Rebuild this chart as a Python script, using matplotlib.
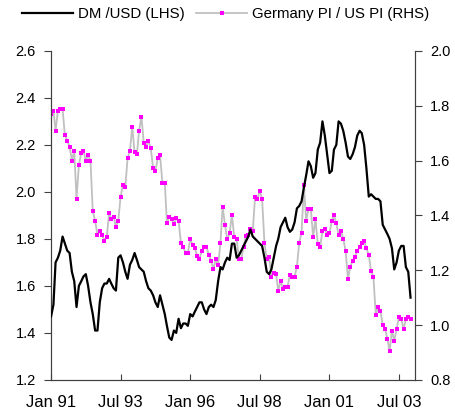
import matplotlib
matplotlib.use("Agg")
import matplotlib.pyplot as plt
import pandas as pd
from matplotlib.lines import Line2D

plt.rcParams['font.family'] = ['Liberation Sans', 'DejaVu Sans']

dates = pd.date_range('1991-01-01', periods=156, freq='MS')

dm_usd = [
    1.47, 1.52, 1.70, 1.72, 1.75, 1.81, 1.78, 1.75, 1.74, 1.66,
    1.62, 1.51, 1.60, 1.62, 1.64, 1.65, 1.60, 1.53, 1.48, 1.41,
    1.41, 1.53, 1.59, 1.61, 1.61, 1.63, 1.61, 1.59, 1.58, 1.72,
    1.73, 1.70, 1.66, 1.63, 1.69, 1.71, 1.74, 1.71, 1.68, 1.67,
    1.66, 1.62, 1.59, 1.58, 1.56, 1.53, 1.51, 1.56, 1.52, 1.48,
    1.43, 1.38, 1.37, 1.41, 1.40, 1.46, 1.42, 1.44, 1.44, 1.43,
    1.48, 1.47, 1.49, 1.51, 1.53, 1.53, 1.50, 1.48, 1.51, 1.52,
    1.51, 1.54, 1.62, 1.68, 1.67, 1.70, 1.72, 1.71, 1.78, 1.78,
    1.72, 1.73, 1.75, 1.77, 1.79, 1.81, 1.84, 1.81, 1.80, 1.79,
    1.78, 1.77, 1.72, 1.66, 1.65, 1.67, 1.72, 1.77, 1.80, 1.85,
    1.87, 1.89, 1.85, 1.83, 1.84, 1.87, 1.93, 1.94, 1.96, 2.02,
    2.07, 2.13, 2.11, 2.06, 2.08, 2.18, 2.21, 2.30, 2.24, 2.16,
    2.08, 2.09, 2.18, 2.20, 2.30, 2.29, 2.26, 2.21, 2.15, 2.14,
    2.16, 2.19, 2.24, 2.26, 2.25, 2.20, 2.10, 1.98, 1.99, 1.98,
    1.97, 1.97, 1.96, 1.86, 1.84, 1.82, 1.80, 1.76, 1.67, 1.70,
    1.75, 1.77, 1.77, 1.68, 1.66, 1.55,
]

pi_ratio = [
    1.769, 1.782, 1.709, 1.782, 1.788, 1.788, 1.693, 1.673, 1.651, 1.600,
    1.636, 1.461, 1.584, 1.629, 1.636, 1.600, 1.620, 1.600, 1.416, 1.380,
    1.328, 1.343, 1.328, 1.308, 1.322, 1.410, 1.387, 1.395, 1.359, 1.380,
    1.468, 1.511, 1.505, 1.608, 1.636, 1.724, 1.630, 1.623, 1.709, 1.760,
    1.665, 1.651, 1.673, 1.645, 1.572, 1.562, 1.608, 1.620, 1.519, 1.519,
    1.373, 1.395, 1.387, 1.368, 1.389, 1.380, 1.300, 1.283, 1.264, 1.264,
    1.313, 1.292, 1.282, 1.252, 1.241, 1.271, 1.286, 1.286, 1.255, 1.234,
    1.204, 1.241, 1.219, 1.300, 1.432, 1.365, 1.313, 1.335, 1.401, 1.320,
    1.313, 1.241, 1.241, 1.286, 1.325, 1.328, 1.350, 1.344, 1.468, 1.460,
    1.490, 1.460, 1.300, 1.240, 1.249, 1.176, 1.191, 1.185, 1.125, 1.162,
    1.131, 1.138, 1.140, 1.182, 1.176, 1.176, 1.213, 1.300, 1.337, 1.511,
    1.381, 1.423, 1.423, 1.322, 1.387, 1.295, 1.286, 1.343, 1.350, 1.328,
    1.335, 1.380, 1.401, 1.371, 1.328, 1.343, 1.314, 1.271, 1.168, 1.213,
    1.234, 1.249, 1.271, 1.284, 1.298, 1.307, 1.280, 1.255, 1.197, 1.176,
    1.036, 1.067, 1.051, 1.000, 0.985, 0.949, 0.906, 0.979, 0.943, 0.985,
    1.028, 1.022, 0.985, 1.022, 1.030, 1.022,
]

x_tick_dates = pd.to_datetime(['1991-01-01', '1993-07-01', '1996-01-01',
                               '1998-07-01', '2001-01-01', '2003-07-01'])
x_tick_labels = ['Jan 91', 'Jul 93', 'Jan 96', 'Jul 98', 'Jan 01', 'Jul 03']
left_ticks = [1.2, 1.4, 1.6, 1.8, 2.0, 2.2, 2.4, 2.6]
right_ticks = [0.8, 1.0, 1.2, 1.4, 1.6, 1.8, 2.0]

fig = plt.figure(figsize=(4.56, 4.17), dpi=100)
ax = fig.add_axes([0.112, 0.089, 0.798, 0.789])
ax2 = ax.twinx()

ax.plot(dates, dm_usd, color='black', lw=1.6, zorder=3)
ax2.plot(dates, pi_ratio, color='#c0c0c0', lw=1.3, marker='s',
         markersize=3.2, markerfacecolor='#ff00ff', markeredgecolor='#ff00ff',
         markeredgewidth=0, zorder=2)
ax.set_zorder(ax2.get_zorder() + 1)
ax.patch.set_visible(False)

ax.set_xlim(pd.Timestamp('1991-01-01'), pd.Timestamp('2004-01-28'))
ax.set_ylim(1.2, 2.6)
ax2.set_ylim(0.8, 2.0)
ax.set_yticks(left_ticks)
ax.set_yticklabels([f'{v:.1f}' for v in left_ticks])
ax2.set_yticks(right_ticks)
ax2.set_yticklabels([f'{v:.1f}' for v in right_ticks])
ax.set_xticks(x_tick_dates)
ax.set_xticklabels(x_tick_labels)

for a in (ax, ax2):
    a.spines['top'].set_visible(False)
    for s in ('left', 'right', 'bottom'):
        a.spines[s].set_color('#404040')
        a.spines[s].set_linewidth(0.8)

ax.tick_params(axis='y', direction='out', length=5, width=0.8, color='#404040',
               labelsize=10.5, pad=6)
ax2.tick_params(axis='y', direction='out', length=5, width=0.8, color='#404040',
                labelsize=10.5, pad=6)
ax.tick_params(axis='x', direction='in', length=4, width=0.8, color='#404040',
               labelsize=12, pad=11)

handles = [
    Line2D([], [], color='black', lw=1.6),
    Line2D([], [], color='#c0c0c0', lw=1.3, marker='s', markersize=3.2,
           markerfacecolor='#ff00ff', markeredgewidth=0),
]
fig.legend(handles, ['DM /USD (LHS)', 'Germany PI / US PI (RHS)'],
           loc='center', bbox_to_anchor=(0.495, 0.966), ncol=2, frameon=False,
           fontsize=10.8, handlelength=3.4, handletextpad=0.3, columnspacing=0.8,
           markerscale=1.0)

fig.savefig('out.png', dpi=100)
